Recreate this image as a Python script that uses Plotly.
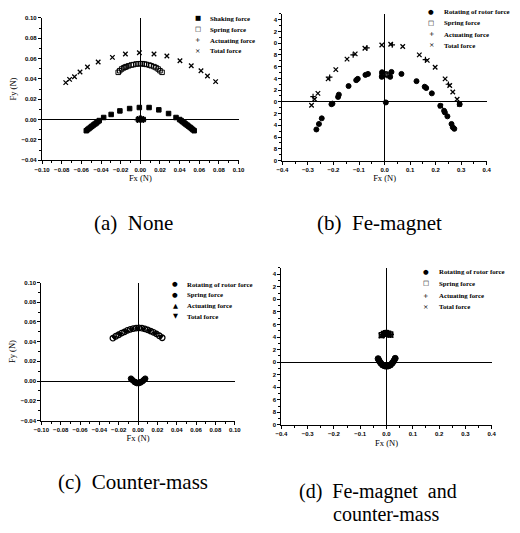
import plotly.graph_objects as go

# ---------------- Panel (a) None ----------------
a_shake_x = [-0.0550, -0.0536, -0.0522, -0.0507, -0.0493, -0.0478, -0.0462, -0.0447, -0.0432, -0.0418,
             -0.0373, -0.0297, -0.0208, -0.0109, -0.0010, 0.0089, 0.0188, 0.0287, 0.0363, 0.0400,
             0.0416, 0.0431, 0.0446, 0.0461, 0.0476, 0.0491, 0.0506, 0.0520, 0.0534, 0.0548,
             -0.0020, 0.0005, 0.0030]
a_shake_y = [-0.0110, -0.0099, -0.0088, -0.0077, -0.0066, -0.0055, -0.0044, -0.0033, -0.0021, -0.0010,
             0.0020, 0.0050, 0.0085, 0.0108, 0.0118, 0.0118, 0.0095, 0.0059, 0.0020, 0.0000,
             -0.0011, -0.0022, -0.0033, -0.0044, -0.0055, -0.0066, -0.0077, -0.0088, -0.0099, -0.0110,
             0.0000, 0.0002, 0.0000]
a_spring_x = [-0.0225, -0.0210, -0.0190, -0.0170, -0.0155, -0.0142, -0.0120, -0.0092, -0.0070, -0.0043,
              -0.0020, 0.0000, 0.0020, 0.0040, 0.0060, 0.0089, 0.0110, 0.0139, 0.0160, 0.0181, 0.0200, 0.0221]
a_spring_y = [0.0464, 0.0480, 0.0497, 0.0508, 0.0515, 0.0520, 0.0528, 0.0536, 0.0540, 0.0546,
              0.0548, 0.0549, 0.0549, 0.0546, 0.0542, 0.0536, 0.0529, 0.0520, 0.0510, 0.0497, 0.0480, 0.0464]
a_act_x = [-0.0030, -0.0010, 0.0010, 0.0030]
a_act_y = [0.0000, 0.0004, 0.0004, 0.0000]
a_total_x = [-0.0759, -0.0720, -0.0670, -0.0614, -0.0538, -0.0429, -0.0284, -0.0152, -0.0010,
             0.0139, 0.0270, 0.0403, 0.0518, 0.0617, 0.0683, 0.0766]
a_total_y = [0.0363, 0.0395, 0.0420, 0.0467, 0.0516, 0.0565, 0.0611, 0.0644, 0.0657,
             0.0644, 0.0624, 0.0578, 0.0529, 0.0480, 0.0428, 0.0373]

# ---------------- Panel (b) Fe-magnet ----------------
b_rot_x = [-0.267, -0.257, -0.246, -0.208, -0.204, -0.182, -0.179, -0.141, -0.111, -0.105, -0.075, -0.065,
           -0.011, -0.010, 0.005, 0.022, 0.027, 0.066, 0.125, 0.157, 0.163, 0.185, 0.218, 0.233, 0.236,
           0.246, 0.262, 0.267, 0.273, 0.294]
b_rot_y = [-0.471, -0.377, -0.281, -0.040, -0.030, 0.084, 0.123, 0.269, 0.370, 0.392, 0.460, 0.476,
           0.426, 0.505, -0.010, 0.426, 0.510, 0.476, 0.353, 0.258, 0.236, 0.145, -0.067, -0.152, -0.180,
           -0.247, -0.377, -0.433, -0.460, -0.040]
b_spring_x = [-0.010, -0.004, 0.002, 0.008, 0.014]
b_spring_y = [0.450, 0.468, 0.475, 0.468, 0.450]
b_act_x = [-0.280, -0.215, -0.123, -0.069, 0.030, 0.160, 0.250]
b_act_y = [0.090, 0.420, 0.800, 0.920, 0.970, 0.720, 0.300]
b_total_x = [-0.286, -0.274, -0.261, -0.221, -0.191, -0.147, -0.115, -0.077, -0.011, 0.024, 0.071,
             0.136, 0.167, 0.198, 0.237, 0.255, 0.267, 0.284, 0.293, 0.220]
b_total_y = [-0.057, 0.044, 0.145, 0.392, 0.549, 0.729, 0.818, 0.914, 0.970, 0.981, 0.943,
             0.801, 0.707, 0.589, 0.392, 0.279, 0.168, 0.044, -0.040, -0.070]

# ---------------- Panel (c) Counter-mass ----------------
c_rot_x = [-0.0073, -0.0055, -0.0035, -0.0015, 0.0005, 0.0025, 0.0045, 0.0060, 0.0074]
c_rot_y = [0.0025, 0.0008, -0.0010, -0.0020, -0.0022, -0.0015, -0.0002, 0.0012, 0.0025]
c_spring_x = [-0.0260, -0.0230, -0.0200, -0.0170, -0.0140, -0.0110, -0.0080, -0.0050, -0.0020, 0.0010,
              0.0040, 0.0070, 0.0100, 0.0130, 0.0160, 0.0190, 0.0220, 0.0250]
c_spring_y = [0.0435, 0.0455, 0.0470, 0.0487, 0.0500, 0.0515, 0.0525, 0.0533, 0.0538, 0.0540,
              0.0537, 0.0530, 0.0520, 0.0508, 0.0495, 0.0480, 0.0460, 0.0440]
c_act_x = [-0.0020, 0.0000, 0.0020]
c_act_y = [0.0000, -0.0005, 0.0000]
c_total_x = [-0.0245, -0.0185, -0.0125, -0.0065, -0.0005, 0.0055, 0.0115, 0.0175, 0.0235]
c_total_y = [0.0442, 0.0476, 0.0505, 0.0524, 0.0532, 0.0528, 0.0510, 0.0485, 0.0450]

# ---------------- Panel (d) Fe-magnet and counter-mass ----------------
d_rot_x = [-0.032, -0.028, -0.022, -0.015, -0.007, 0.000, 0.007, 0.015, 0.022, 0.028, 0.033]
d_rot_y = [0.055, 0.020, -0.015, -0.045, -0.060, -0.065, -0.060, -0.045, -0.015, 0.020, 0.060]
d_spring_x = [-0.018, -0.010, -0.002, 0.006, 0.014]
d_spring_y = [0.430, 0.450, 0.460, 0.455, 0.440]
d_act_x = [-0.015, -0.005, 0.005, 0.015]
d_act_y = [0.440, 0.460, 0.460, 0.440]
d_total_x = [-0.020, -0.008, 0.004, 0.016]
d_total_y = [0.420, 0.445, 0.450, 0.430]

# tick labels of panels (b)/(d) as they appear (left part cropped in the original)
yv_b = [-1.0, -0.8, -0.6, -0.4, -0.2, 0.0, 0.2, 0.4, 0.6, 0.8, 1.0, 1.2, 1.4]
yt_b = ['0', '8', '6', '4', '2', '0', '2', '4', '6', '8', '0', '2', '4']

fig = go.Figure()


def add(x, y, ax, symbol, size, name, lw=1.0):
    fig.add_trace(go.Scatter(
        x=x, y=y, xaxis='x' + ax, yaxis='y' + ax, mode='markers', name=name, showlegend=False,
        marker=dict(symbol=symbol, size=size, color='black', line=dict(color='black', width=lw))))


add(a_shake_x, a_shake_y, '', 'square', 4.5, 'Shaking force')
add(a_spring_x, a_spring_y, '', 'square-open', 4.5, 'Spring force')
add(a_act_x, a_act_y, '', 'cross-thin', 5, 'Actuating force', 1.3)
add(a_total_x, a_total_y, '', 'x-thin', 4.5, 'Total force', 1.3)

add(b_rot_x, b_rot_y, '2', 'circle', 5, 'Rotating of rotor force')
add(b_spring_x, b_spring_y, '2', 'square-open', 4.5, 'Spring force')
add(b_act_x, b_act_y, '2', 'cross-thin', 4, 'Actuating force', 1.2)
add(b_total_x, b_total_y, '2', 'x-thin', 4.5, 'Total force', 1.3)

add(c_rot_x, c_rot_y, '3', 'circle', 5.5, 'Rotating of rotor force')
add(c_spring_x, c_spring_y, '3', 'circle-open', 5.5, 'Spring force', 1.3)
add(c_act_x, c_act_y, '3', 'triangle-up', 4, 'Actuating force')
add(c_total_x, c_total_y, '3', 'triangle-down', 4.5, 'Total force')

add(d_rot_x, d_rot_y, '4', 'circle', 6, 'Rotating of rotor force')
add(d_spring_x, d_spring_y, '4', 'square-open', 5, 'Spring force', 1.3)
add(d_act_x, d_act_y, '4', 'cross-thin', 5, 'Actuating force', 1.3)
add(d_total_x, d_total_y, '4', 'x-thin', 5, 'Total force', 1.3)

W, H = 520, 533
tickfont = dict(size=6, family='Liberation Sans', color='black', weight='bold')
titlefont = dict(size=8.5, family='Liberation Serif', color='black')


def px_x(a, b):
    return [a / W, b / W]


def px_y(top, bot):
    return [1 - bot / H, 1 - top / H]


def axis(domain, rng, dtick, fmt, anchor, title=None, tickvals=None, ticktext=None, standoff=3):
    d = dict(domain=domain, range=rng, anchor=anchor, showline=True, linecolor='black', linewidth=1.3,
             ticks='outside', ticklen=3, tickwidth=1, tickcolor='black',
             minor=dict(ticks='outside', ticklen=2, dtick=dtick / 2, tickcolor='black', showgrid=False),
             zeroline=True, zerolinecolor='black', zerolinewidth=1.3, showgrid=False,
             tickfont=tickfont, tick0=0, dtick=dtick, tickformat=fmt)
    if tickvals is not None:
        d.update(tickmode='array', tickvals=tickvals, ticktext=ticktext)
    if title:
        d['title'] = dict(text=title, font=titlefont, standoff=standoff)
    return d


fig.update_layout(
    width=W, height=H, margin=dict(l=0, r=0, t=0, b=0),
    paper_bgcolor='white', plot_bgcolor='white', showlegend=False,
    xaxis=axis(px_x(35, 237), [-0.10, 0.10], 0.02, '.2f', 'y', 'Fx (N)'),
    yaxis=axis(px_y(15, 159), [-0.04, 0.10], 0.02, '.2f', 'x', 'Fy (N)'),
    xaxis2=axis(px_x(282, 492), [-0.4, 0.4], 0.1, '.1f', 'y2', 'Fx (N)'),
    yaxis2=axis(px_y(11, 159.3), [-1.0, 1.5], 0.2, '.1f', 'x2', None, yv_b, yt_b),
    xaxis3=axis(px_x(34.3, 233), [-0.10, 0.10], 0.02, '.2f', 'y3', 'Fx (N)'),
    yaxis3=axis(px_y(282.7, 422.3), [-0.04, 0.10], 0.02, '.2f', 'x3', 'Fy (N)'),
    xaxis4=axis(px_x(281, 497), [-0.4, 0.4], 0.1, '.1f', 'y4', 'Fx (N)'),
    yaxis4=axis(px_y(268, 426.7), [-1.0, 1.5], 0.2, '.1f', 'x4', None, yv_b, yt_b),
)

anns = []
legend_font = dict(size=6.8, family='Liberation Serif', color='black', weight='bold')
sym_font = dict(size=6.5, family='DejaVu Sans', color='black')


def legend(sx, tx, rows, items):
    for (sym, txt), ry in zip(items, rows):
        anns.append(dict(x=sx / W, y=1 - ry / H, xref='paper', yref='paper', text=sym, showarrow=False,
                         xanchor='center', yanchor='middle', font=sym_font))
        anns.append(dict(x=tx / W, y=1 - ry / H, xref='paper', yref='paper', text=txt, showarrow=False,
                         xanchor='left', yanchor='middle', font=legend_font))


legend(195, 206, [15.5, 26.5, 37.5, 48.5],
       [('■', 'Shaking force'), ('□', 'Spring force'), ('+', 'Actuating force'), ('×', 'Total force')])
legend(435, 446, [9, 20, 31.5, 42.5],
       [('●', 'Rotating of rotor force'), ('□', 'Spring force'), ('+', 'Actuating force'), ('×', 'Total force')])
legend(171.7, 182, [284.5, 295, 306, 316.7],
       [('●', 'Rotating of rotor force'), ('●', 'Spring force'), ('▲', 'Actuating force'), ('▼', 'Total force')])
legend(429.3, 440.5, [271.7, 283.3, 296, 307.3],
       [('●', 'Rotating of rotor force'), ('□', 'Spring force'), ('+', 'Actuating force'), ('×', 'Total force')])

for txt, cx, cy, fs in [('(a)  None', 129, 222, 21), ('(b)  Fe-magnet', 382, 222, 21),
                        ('(c)  Counter-mass', 128, 484, 21), ('(d)  Fe-magnet  and', 380, 494, 20),
                        ('counter-mass', 388, 517, 20)]:
    anns.append(dict(x=cx / W, y=1 - cy / H, xref='paper', yref='paper', text=txt, showarrow=False,
                     xanchor='center', yanchor='middle',
                     font=dict(size=fs, family='Liberation Serif', color='black')))

fig.update_layout(annotations=anns)
fig.write_html('out.html', config={'displayModeBar': False},
               post_script="document.body.style.margin='0';")
